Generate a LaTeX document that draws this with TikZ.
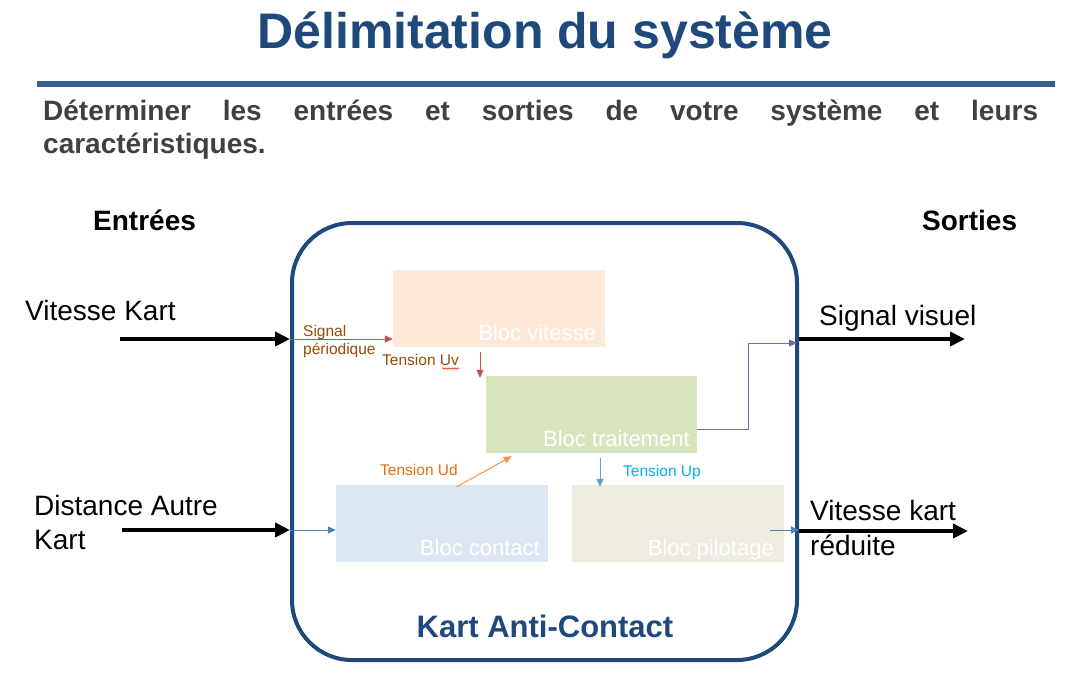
\documentclass[tikz,border=0pt]{standalone}
\usepackage{fontspec}
\setmainfont{Liberation Sans}
\usetikzlibrary{arrows.meta,decorations.pathmorphing}
\definecolor{titleblue}{RGB}{31,73,125}
\definecolor{ruleblue}{RGB}{54,96,143}
\definecolor{subgrey}{RGB}{64,64,64}
\definecolor{peach}{RGB}{253,233,217}
\definecolor{lgreen}{RGB}{215,228,189}
\definecolor{lblue}{RGB}{220,230,242}
\definecolor{lbeige}{RGB}{238,236,225}
\definecolor{brownlbl}{RGB}{152,72,7}
\definecolor{orangelbl}{RGB}{228,108,10}
\definecolor{cyanlbl}{RGB}{0,176,240}
\definecolor{redarr}{RGB}{192,80,77}
\definecolor{orangearr}{RGB}{247,150,70}
\definecolor{tealarr}{RGB}{75,172,198}
\definecolor{purplearr}{RGB}{128,100,162}
\definecolor{bluearr}{RGB}{79,129,189}
\begin{document}
\begin{tikzpicture}[x=1pt,y=-1pt,
  txt/.style={inner sep=0pt,anchor=base west},
  blk/.style={draw=none,minimum width=212pt,minimum height=77pt,inner sep=0pt},
  bigarr/.style={line width=4pt,-{Triangle[length=15pt,width=14pt]}},
  smarr/.style={line width=1pt,-{Triangle[length=8pt,width=7pt]}},
  blklbl/.style={inner sep=0pt,anchor=base east,text=white,font=\fontsize{22}{26}\selectfont},
  lbl/.style={txt,font=\fontsize{15.5}{18}\selectfont},
  big/.style={txt,font=\fontsize{28}{34}\selectfont},
  bigb/.style={txt,font=\fontsize{28}{34}\selectfont\bfseries}]
\useasboundingbox (0,0) rectangle (1070,675);
% title
\node[inner sep=0pt,anchor=base,text=titleblue,font=\fontsize{50}{60}\selectfont\bfseries] (title) at (545,48) {Délimitation du système};
\draw[ruleblue,line width=6pt] (37,84) -- (1055,84);
\node[bigb,text=subgrey] (sub1) at (43,120) {\hbox to 995pt{Déterminer\hfill les\hfill entrées\hfill et\hfill sorties\hfill de\hfill votre\hfill système\hfill et\hfill leurs}};
\node[bigb,text=subgrey] (sub2) at (43,153) {caractéristiques.};
% headings
\node[bigb] (ent) at (93,230) {Entrées};
\node[bigb] (sor) at (922,230) {Sorties};
% system frame
\node[draw=titleblue,line width=4pt,rounded corners=60pt,minimum width=505pt,minimum height=437pt,inner sep=0pt] (sys) at (544.5,441.5) {};
\node[inner sep=0pt,anchor=base,text=titleblue,font=\fontsize{31}{36}\selectfont\bfseries] (kac) at (545,637) {Kart Anti-Contact};
% blocks
\node[blk,fill=peach] (vit) at (499,308.5) {};
\node[blk,fill=lgreen,minimum width=211pt] (trt) at (591.5,414.5) {};
\node[blk,fill=lblue] (con) at (442,523.5) {};
\node[blk,fill=lbeige] (pil) at (678,523.5) {};
\node[blklbl] (lvit) at (596,340) {Bloc vitesse};
\node[blklbl] (ltrt) at (690,446) {Bloc traitement};
\node[blklbl] (lcon) at (540,555) {Bloc contact};
\node[blklbl] (lpil) at (774,555) {Bloc pilotage};
% external texts
\node[big] (tvk) at (25,320) {Vitesse Kart};
\node[big] (tda) at (34,515) {Distance Autre};
\node[big] (tda2) at (34,549) {Kart};
\node[big] (tsv) at (819,325) {Signal visuel};
\node[big] (tvr) at (810,520) {Vitesse kart};
\node[big] (tvr2) at (810,555) {réduite};
% coordinates
\coordinate (in1) at (120,339);
\coordinate (in2) at (122,530);
\coordinate (out1) at (965,339);
\coordinate (out2) at (968,531);
\coordinate (pv) at (797,343);
\coordinate (bo) at (770,530);
% big arrows
\draw[bigarr] (in1) -- (in1 -| sys.west);
\draw[bigarr] (in2) -- (in2 -| sys.west);
\draw[bigarr] (out1 -| sys.east) -- (out1);
\draw[bigarr] (out2 -| sys.east) -- (out2);
% internal arrows
\draw[smarr,redarr] (in1 -| sys.west) -- (in1 -| vit.west);
\node[lbl,text=brownlbl] (tsig) at (303,336) {Signal};
\node[lbl,text=brownlbl] (tper) at (303,354) {périodique};
\coordinate (uvs) at (480,352);
\draw[smarr,redarr] (uvs) -- ([yshift=-2pt]uvs |- trt.north);
\node[lbl,text=brownlbl] (tuv) at (382,365) {Tension Uv};
\draw[red,line width=0.6pt,decorate,decoration={snake,amplitude=0.8pt,segment length=3pt}] ([xshift=-17pt,yshift=-3.5pt]tuv.base east) -- ([yshift=-3.5pt]tuv.base east);
\draw[smarr,orangearr] ([xshift=121pt,yshift=-2pt]con.north west) -- ([xshift=26pt,yshift=-3pt]trt.south west);
\node[lbl,text=orangelbl] (tud) at (380,475) {Tension Ud};
\coordinate (ups) at (600,458);
\draw[smarr,tealarr] (ups) -- ([yshift=-2pt]ups |- pil.north);
\node[lbl,text=cyanlbl] (tup) at (623,476) {Tension Up};
\draw[smarr,purplearr] ([yshift=-14.5pt]trt.east) -- ++(51,0) |- (pv);
\draw[smarr,bluearr] (in2 -| sys.west) -- (in2 -| con.west);
\draw[smarr,bluearr] (bo) -- (bo -| sys.east);
\end{tikzpicture}
\end{document}
